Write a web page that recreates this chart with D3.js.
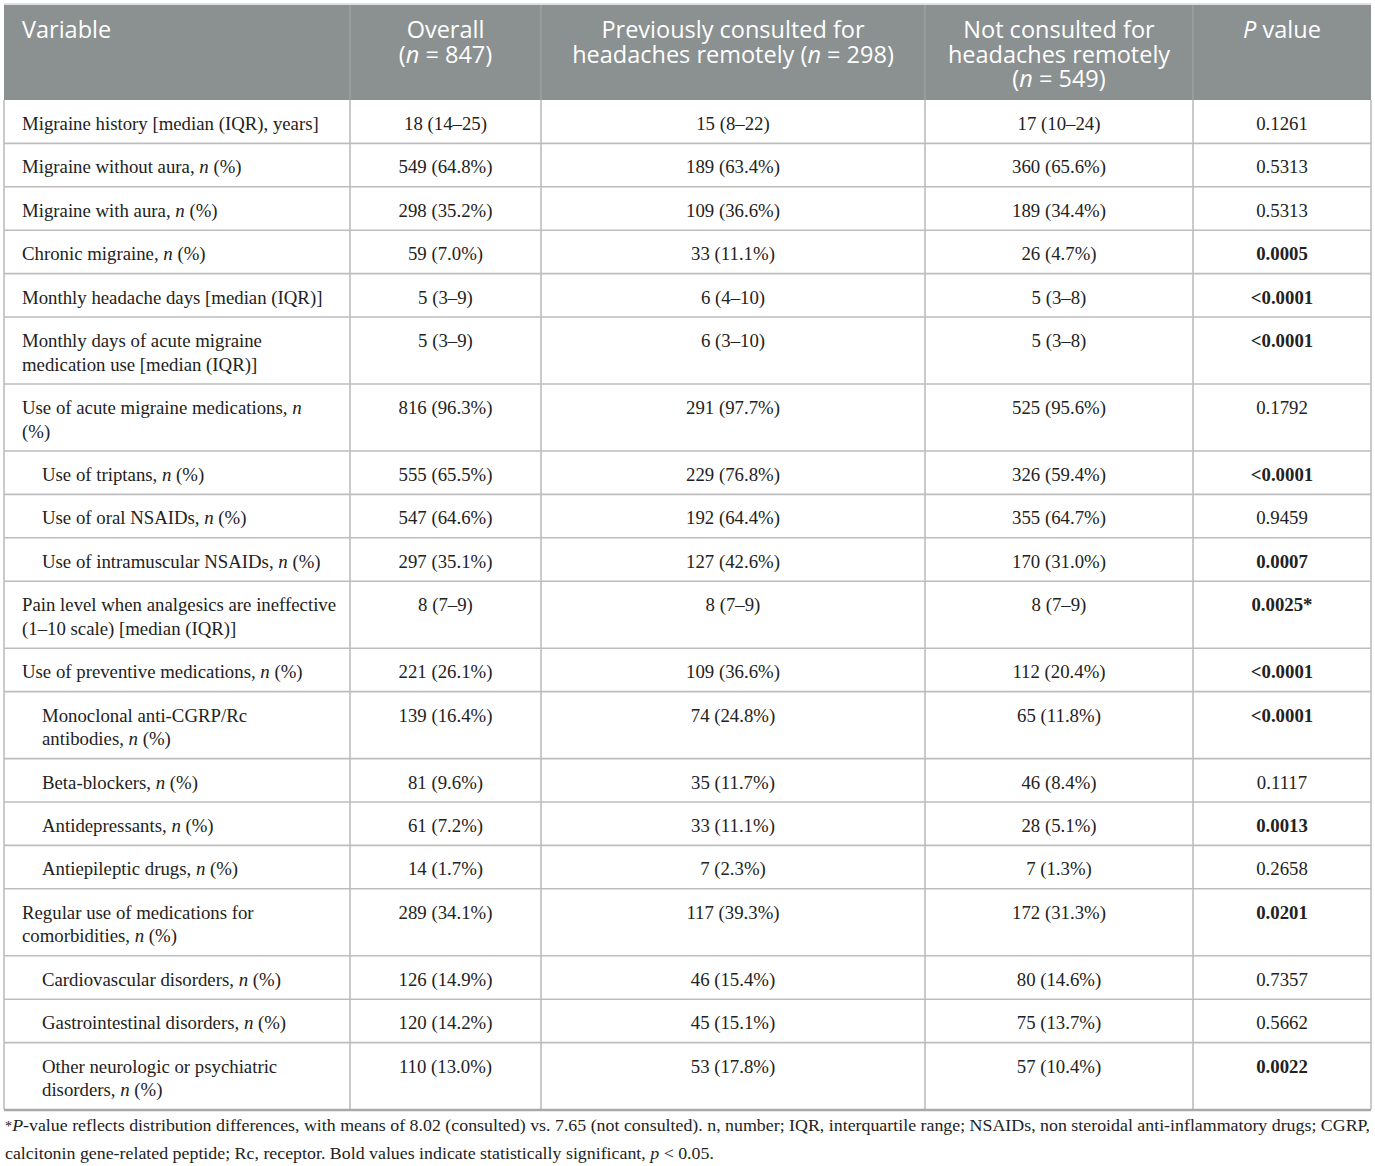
<!DOCTYPE html>
<html>
<head>
<meta charset="utf-8">
<script src="https://cdn.jsdelivr.net/npm/d3@7"></script>
<style>
  body { margin: 0; background: #fff; }
  svg text { font-kerning: normal; }
</style>
</head>
<body>
<svg width="1375" height="1166"></svg>
<script>
// header cells, each a list of lines; "*n*" marks italic
const headers = [
    ["Variable"],
    ["Overall", "(*n* = 847)"],
    ["Previously consulted for", "headaches remotely (*n* = 298)"],
    ["Not consulted for", "headaches remotely", "(*n* = 549)"],
    ["*P* value"]
];

// row labels (line breaks as printed)
const variables = [
    ["Migraine history [median (IQR), years]"],
    ["Migraine without aura, *n* (%)"],
    ["Migraine with aura, *n* (%)"],
    ["Chronic migraine, *n* (%)"],
    ["Monthly headache days [median (IQR)]"],
    ["Monthly days of acute migraine", "medication use [median (IQR)]"],
    ["Use of acute migraine medications, *n*", "(%)"],
    ["Use of triptans, *n* (%)"],
    ["Use of oral NSAIDs, *n* (%)"],
    ["Use of intramuscular NSAIDs, *n* (%)"],
    ["Pain level when analgesics are ineffective", "(1–10 scale) [median (IQR)]"],
    ["Use of preventive medications, *n* (%)"],
    ["Monoclonal anti-CGRP/Rc", "antibodies, *n* (%)"],
    ["Beta-blockers, *n* (%)"],
    ["Antidepressants, *n* (%)"],
    ["Antiepileptic drugs, *n* (%)"],
    ["Regular use of medications for", "comorbidities, *n* (%)"],
    ["Cardiovascular disorders, *n* (%)"],
    ["Gastrointestinal disorders, *n* (%)"],
    ["Other neurologic or psychiatric", "disorders, *n* (%)"]
];

// sub-item rows (indented)
const indented = [false, false, false, false, false, false, false, true, true, true,
                  false, false, true, true, true, true, false, true, true, true];

const overall = ["18 (14–25)", "549 (64.8%)", "298 (35.2%)", "59 (7.0%)", "5 (3–9)", "5 (3–9)",
    "816 (96.3%)", "555 (65.5%)", "547 (64.6%)", "297 (35.1%)", "8 (7–9)", "221 (26.1%)",
    "139 (16.4%)", "81 (9.6%)", "61 (7.2%)", "14 (1.7%)", "289 (34.1%)", "126 (14.9%)",
    "120 (14.2%)", "110 (13.0%)"];

const consulted = ["15 (8–22)", "189 (63.4%)", "109 (36.6%)", "33 (11.1%)", "6 (4–10)", "6 (3–10)",
    "291 (97.7%)", "229 (76.8%)", "192 (64.4%)", "127 (42.6%)", "8 (7–9)", "109 (36.6%)",
    "74 (24.8%)", "35 (11.7%)", "33 (11.1%)", "7 (2.3%)", "117 (39.3%)", "46 (15.4%)",
    "45 (15.1%)", "53 (17.8%)"];

const notConsulted = ["17 (10–24)", "360 (65.6%)", "189 (34.4%)", "26 (4.7%)", "5 (3–8)", "5 (3–8)",
    "525 (95.6%)", "326 (59.4%)", "355 (64.7%)", "170 (31.0%)", "8 (7–9)", "112 (20.4%)",
    "65 (11.8%)", "46 (8.4%)", "28 (5.1%)", "7 (1.3%)", "172 (31.3%)", "80 (14.6%)",
    "75 (13.7%)", "57 (10.4%)"];

const pValues = ["0.1261", "0.5313", "0.5313", "0.0005", "<0.0001", "<0.0001", "0.1792",
    "<0.0001", "0.9459", "0.0007", "0.0025*", "<0.0001", "<0.0001", "0.1117", "0.0013",
    "0.2658", "0.0201", "0.7357", "0.5662", "0.0022"];

// significant values shown in bold
const significant = pValues.map(p => p.startsWith("<") || parseFloat(p) < 0.05);

const footnote = [
    "^*^*P*-value reflects distribution differences, with means of 8.02 (consulted) vs. 7.65 (not consulted). n, number; IQR, interquartile range; NSAIDs, non steroidal anti-inflammatory drugs; CGRP,",
    "calcitonin gene-related peptide; Rc, receptor. Bold values indicate statistically significant, *p* < 0.05."
];

// ---- layout ----
const svg = d3.select("svg");
const colEdges = [4, 350, 541, 925, 1193, 1371];
const headTop = 5, headBottom = 100;
const lineH = 23.6, rowPad = 19.8;
const gridColor = "#bdbdbd";
const serif = "'Liberation Serif', 'Times New Roman', serif";

const rows = variables.map((v, i) => ({
    label: v,
    cells: [overall[i], consulted[i], notConsulted[i], pValues[i]],
    bold: significant[i],
    indent: indented[i],
    h: rowPad + v.length * lineH
}));
let yAcc = headBottom;
rows.forEach(r => { r.y = yAcc; yAcc += r.h; });
const tableBottom = yAcc;

// write a string with *italic* and ^sup^ parts into a text element
function richText(sel, str) {
    const parts = str.split(/(\*[^*]+\*|\^[^^]+\^)/).filter(s => s.length);
    parts.forEach(p => {
        if (p.startsWith("^")) {
            sel.append("tspan").attr("font-size", "0.8em").attr("dy", "-0.3em").text(p.slice(1, -1));
            sel.append("tspan").attr("dy", "0.24em").text("");
        } else if (p.startsWith("*")) {
            sel.append("tspan").attr("font-style", "italic").text(p.slice(1, -1));
        } else {
            sel.append("tspan").text(p);
        }
    });
}

// several lines in one text element, one tspan per line
function multiLine(t, lines, x, step) {
    lines.forEach((ln, k) => {
        const line = t.append("tspan").attr("x", x).attr("dy", k === 0 ? 0 : step);
        richText(line, ln);
    });
}

// header background
svg.append("rect")
    .attr("x", colEdges[0]).attr("y", headTop)
    .attr("width", colEdges[5] - colEdges[0]).attr("height", headBottom - headTop)
    .attr("fill", "#8b9091");

// header text
headers.forEach((lines, c) => {
    const left = c === 0;
    const x = left ? colEdges[0] + 18 : (colEdges[c] + colEdges[c + 1]) / 2;
    const t = svg.append("text")
        .attr("x", x).attr("y", headTop + 33)
        .attr("text-anchor", left ? "start" : "middle")
        .attr("font-family", "'Open Sans', 'Noto Sans', sans-serif")
        .attr("font-size", 23.5)
        .attr("font-weight", 400)
        .attr("fill", "#ffffff");
    multiLine(t, lines, x, 24.5);
});

// header column separators
svg.selectAll(".hsep")
    .data(colEdges.slice(1, 5))
    .enter().append("line")
    .attr("x1", d => d).attr("x2", d => d)
    .attr("y1", headTop).attr("y2", headBottom)
    .attr("stroke", "#a3a8a9").attr("stroke-width", 1);

// body rows
const rowG = svg.selectAll(".row")
    .data(rows)
    .enter().append("g")
    .attr("class", "row")
    .attr("transform", d => `translate(0,${d.y})`);

rowG.each(function (d) {
    const g = d3.select(this);
    const lx = colEdges[0] + (d.indent ? 38 : 18);
    const t = g.append("text")
        .attr("x", lx)
        .attr("y", 30)
        .attr("font-family", serif)
        .attr("font-size", 18.8)
        .attr("fill", "#222");
    multiLine(t, d.label, lx, lineH);
    d.cells.forEach((val, c) => {
        g.append("text")
            .attr("x", (colEdges[c + 1] + colEdges[c + 2]) / 2)
            .attr("y", 30)
            .attr("text-anchor", "middle")
            .attr("font-family", serif)
            .attr("font-size", 18.8)
            .attr("font-weight", c === 3 && d.bold ? "bold" : "normal")
            .attr("fill", "#222")
            .text(val);
    });
});

// horizontal grid lines
svg.selectAll(".hline")
    .data(rows.slice(1).map(r => r.y))
    .enter().append("line")
    .attr("x1", colEdges[0]).attr("x2", colEdges[5])
    .attr("y1", d => d).attr("y2", d => d)
    .attr("stroke", gridColor).attr("stroke-width", 1.6);

// vertical grid lines in body
svg.selectAll(".vline")
    .data(colEdges)
    .enter().append("line")
    .attr("x1", d => d).attr("x2", d => d)
    .attr("y1", headBottom).attr("y2", tableBottom)
    .attr("stroke", gridColor).attr("stroke-width", 1.6);

// top and bottom rules
svg.append("line")
    .attr("x1", colEdges[0]).attr("x2", colEdges[5])
    .attr("y1", headTop - 1).attr("y2", headTop - 1)
    .attr("stroke", "#d4d4d4").attr("stroke-width", 1.5);
svg.append("line")
    .attr("x1", colEdges[0]).attr("x2", colEdges[5])
    .attr("y1", tableBottom + 0.5).attr("y2", tableBottom + 0.5)
    .attr("stroke", "#a9a9a9").attr("stroke-width", 2.5);

// footnote: condensed to span the table width like the printed note
let squeeze = 1;
footnote.forEach((ln, k) => {
    const t = svg.append("text")
        .attr("x", 5)
        .attr("y", tableBottom + 26 + k * 23.5)
        .attr("font-family", serif)
        .attr("font-size", 17.5)
        .attr("fill", "#222");
    richText(t, ln);
    const w = t.node().getComputedTextLength();
    if (k === 0) squeeze = (colEdges[5] - 6) / w;
    t.attr("textLength", w * squeeze).attr("lengthAdjust", "spacingAndGlyphs");
});
</script>
</body>
</html>
